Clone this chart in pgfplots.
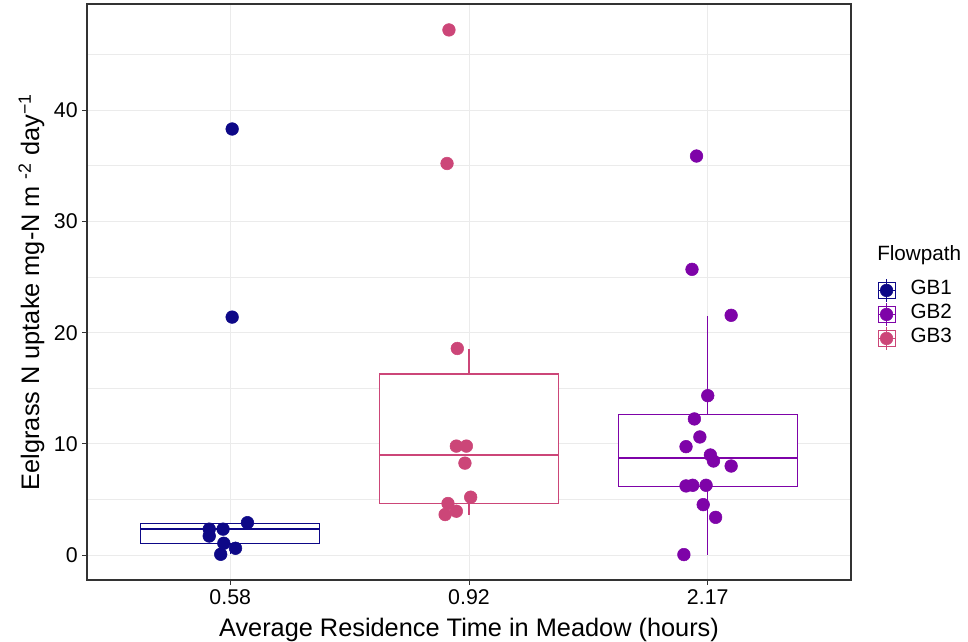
\documentclass[border=0pt]{standalone}
\usepackage{fontspec}
\setmainfont{Liberation Sans}
\usepackage{pgfplots}
\pgfplotsset{compat=1.18}
\usepgfplotslibrary{statistics}
\definecolor{gbone}{HTML}{0D0887}
\definecolor{gbtwo}{HTML}{7E03A8}
\definecolor{gbthree}{HTML}{CC4678}
\definecolor{gridc}{HTML}{EBEBEB}
\definecolor{framec}{HTML}{333333}
\pgfplotsset{
  legbox/.style={legend image code/.code={
    \draw[#1, line width=0.8pt, fill=white] (0pt,-6.3pt) rectangle (12.8pt,6.3pt);
    \draw[#1, line width=0.8pt] (6.4pt,-8.5pt) -- (6.4pt,8.5pt);
    \draw[#1, line width=1.2pt] (0pt,0pt) -- (12.8pt,0pt);
    \fill[#1] (6.4pt,0pt) circle (4.75pt);
  }},
  bp/.style={line width=0.8pt, solid, forget plot, color=#1,
    boxplot/draw direction=y,
    boxplot/every box/.style={fill=white, draw=#1},
    boxplot/every whisker/.style={draw=#1},
    boxplot/every median/.style={draw=#1, line width=1.5pt}},
  pts/.style={only marks, mark=*, mark size=4.75pt, forget plot,
    mark options={draw=#1, fill=#1}, color=#1},
}
\begin{document}
\begin{tikzpicture}
\path[use as bounding box] (-65.25pt,-46.5pt) rectangle (660.75pt,435pt);
\begin{axis}[at={(0,0)}, anchor=south west, scale only axis,
  width=573pt, height=432pt,
  xmin=0.4, xmax=3.6, ymin=-2.22, ymax=49.53,
  xtick={1,2,3}, xticklabels={0.58,0.92,2.17},
  ytick={0,10,20,30,40}, minor ytick={5,15,25,35,45},
  grid=both,
  major grid style={gridc, line width=0.75pt},
  minor grid style={gridc, line width=0.45pt},
  axis line style={framec, line width=0.8pt},
  tick align=outside, tick pos=left,
  major tick length=3.5pt, minor tick length=0pt,
  every tick/.style={framec, line width=0.75pt},
  /pgf/number format/assume math mode=true,
  ticklabel style={font=\fontsize{16}{19}\selectfont, black},
  xlabel={Average Residence Time in Meadow (hours)},
  xlabel style={at={(axis description cs:0.5,-0.0984)}, anchor=base,
    font=\fontsize{19}{22}\selectfont},
  ylabel={Eelgrass N uptake mg-N m \textsuperscript{-2} day\textsuperscript{−1}},
  ylabel style={at={(axis description cs:-0.0625,0.5)}, anchor=base,
    font=\fontsize{19}{22}\selectfont},
  legend style={at={(rel axis cs:1.034,0.524)}, anchor=north west,
    draw=none, fill=none, inner sep=0pt,
    font=\fontsize{15.5}{18}\selectfont,
    nodes={inner sep=0pt, text height=12pt, text depth=6pt},
    /tikz/every odd column/.append style={column sep=11pt}},
  legend cell align=left,
]
% boxplots
\addplot[bp=gbone, boxplot prepared={draw position=1, lower whisker=0.09,
  lower quartile=1.04, median=2.36, upper quartile=2.87, upper whisker=2.93,
  box extend=0.75, whisker extend=0}] coordinates {};
\addplot[bp=gbthree, boxplot prepared={draw position=2, lower whisker=3.66,
  lower quartile=4.65, median=9.04, upper quartile=16.29, upper whisker=18.5,
  box extend=0.75, whisker extend=0}] coordinates {};
\addplot[bp=gbtwo, boxplot prepared={draw position=3, lower whisker=0.06,
  lower quartile=6.14, median=8.77, upper quartile=12.66, upper whisker=21.53,
  box extend=0.75, whisker extend=0}] coordinates {};
% points
\addplot[pts=gbone] coordinates {
 (0.912,2.35) (0.970,2.35) (0.912,1.73) (1.072,2.93) (0.973,1.08)
 (1.022,0.63) (0.960,0.09) (1.008,38.3) (1.008,21.4)};
\addplot[pts=gbthree] coordinates {
 (1.916,47.2) (1.908,35.2) (1.951,18.58) (1.947,9.81) (1.989,9.81)
 (1.983,8.28) (2.007,5.22) (1.912,4.65) (1.947,3.96) (1.900,3.66)};
\addplot[pts=gbtwo] coordinates {
 (2.953,35.87) (2.934,25.69) (3.098,21.56) (3.000,14.34) (2.944,12.25)
 (2.967,10.63) (2.909,9.76) (3.011,9.01) (3.024,8.47) (3.098,8.02)
 (2.909,6.23) (2.937,6.29) (2.993,6.29) (2.981,4.55) (3.033,3.41)
 (2.900,0.06)};
% legend
\addlegendimage{legbox=gbone}\addlegendentry{GB1}
\addlegendimage{legbox=gbtwo}\addlegendentry{GB2}
\addlegendimage{legbox=gbthree}\addlegendentry{GB3}
\end{axis}
\node[anchor=base west, font=\fontsize{15.5}{18}\selectfont, inner sep=0pt]
  at (592.5pt,239.6pt) {Flowpath};
\end{tikzpicture}
\end{document}
